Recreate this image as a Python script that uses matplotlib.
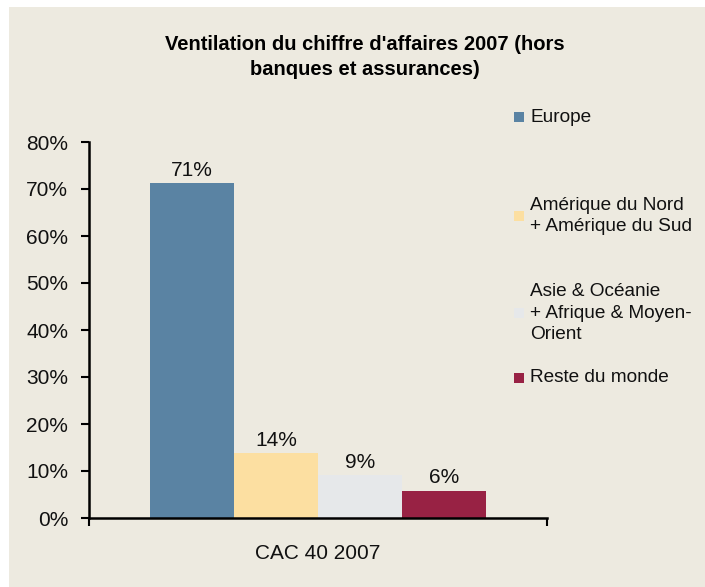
import matplotlib.pyplot as plt
from matplotlib.patches import Rectangle

# data
categories = ['Europe', 'Amérique du Nord\n+ Amérique du Sud',
              'Asie & Océanie\n+ Afrique & Moyen-\nOrient', 'Reste du monde']
values = [71.2, 13.8, 9.1, 5.8]
value_labels = ['71%', '14%', '9%', '6%']
colors = ['#5A83A3', '#FCDFA1', '#E6E8EA', '#982244']
group_label = 'CAC 40 2007'
yticks = [0, 10, 20, 30, 40, 50, 60, 70, 80]

plt.rcParams['font.family'] = ['Liberation Sans', 'DejaVu Sans']

W, H = 705, 587
fs = 15
fig = plt.figure(figsize=(W / 100, H / 100), dpi=100, facecolor='white')
bg = '#EDEAE0'
fig.patches.append(Rectangle((9 / W, 0), 1 - 9 / W, 1 - 7 / H, transform=fig.transFigure,
                             facecolor=bg, edgecolor='none', zorder=-10))

ax = fig.add_axes([89 / W, 1 - 518 / H, (547 - 89) / W, (518 - 142) / H])
ax.set_facecolor(bg)

bar_w = 84 / 458  # in axes data units (x range -0.5..0.5)
n = len(values)
start = -bar_w * n / 2
for i in range(n):
    x = start + bar_w * (i + 0.5)
    ax.bar(x, values[i], width=bar_w, color=colors[i], label=categories[i])
    ax.text(x, values[i] + 0.7, value_labels[i], ha='center', va='bottom', fontsize=fs, color='#111111')

ax.set_xlim(-0.5, 0.5)
ax.set_ylim(0, 80)
ax.set_yticks(yticks)
ax.set_yticklabels([f'{t}%' for t in yticks], fontsize=fs, color='#111111')
ax.set_xticks([-0.5, 0.5])
ax.set_xticklabels(['', ''])
ax.text(0.5, -0.095, group_label, transform=ax.transAxes, fontsize=fs, color='#111111',
        ha='center', va='center')
ax.tick_params(axis='y', direction='out', length=6, width=1.5, pad=9)
ax.tick_params(axis='x', direction='out', length=6, width=1.5)
for s in ['top', 'right']:
    ax.spines[s].set_visible(False)
for s in ['left', 'bottom']:
    ax.spines[s].set_linewidth(1.8)

# legend
leg_y = [117, 216, 313, 378]
for i in range(n):
    fig.patches.append(Rectangle((514 / W, 1 - (leg_y[i] + 5) / H), 10 / W, 10 / H,
                                 transform=fig.transFigure, facecolor=colors[i], edgecolor='none'))
    fig.text(530 / W, 1 - leg_y[i] / H, categories[i], fontsize=13.7, color='#111111',
             ha='left', va='center', linespacing=1.35)

fig.text(365 / W, 1 - 57 / H, "Ventilation du chiffre d'affaires 2007 (hors\nbanques et assurances)",
         ha='center', va='center', fontsize=14.5, fontweight='bold', linespacing=1.4)

fig.savefig('out.png', dpi=100, facecolor='white')
